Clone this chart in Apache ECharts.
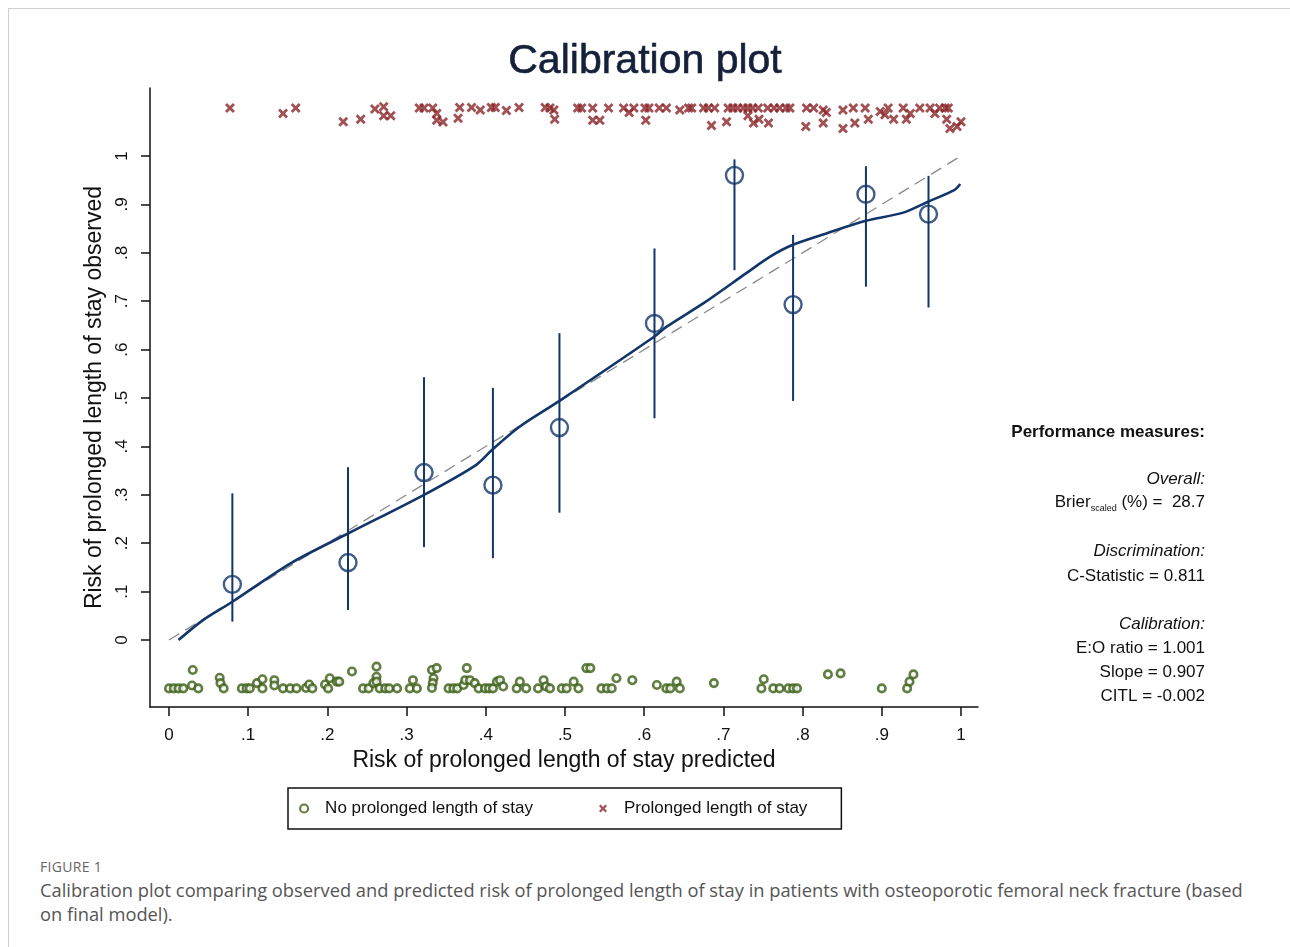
<!DOCTYPE html>
<html><head><meta charset="utf-8">
<script src="https://cdn.jsdelivr.net/npm/echarts@6/dist/echarts.min.js"></script>
<style>
html,body{margin:0;padding:0;background:#fff;width:1290px;height:947px;overflow:hidden;}
#frame{position:absolute;left:8px;top:8px;width:1290px;height:950px;border-top:1px solid #cfcfcf;border-left:1px solid #cfcfcf;}
#chart{position:absolute;left:0;top:0;width:1290px;height:850px;}
#fig{position:absolute;left:40px;top:857px;font-family:'Open Sans',sans-serif;font-size:14px;color:#666;letter-spacing:0.3px;}
#cap{position:absolute;left:40px;top:878px;font-family:'Open Sans',sans-serif;font-size:18.3px;line-height:24px;color:#555;white-space:nowrap;}
</style></head>
<body>
<div id="frame"></div>
<div id="chart"></div>
<div id="fig">FIGURE 1</div>
<div id="cap">Calibration plot comparing observed and predicted risk of prolonged length of stay in patients with osteoporotic femoral neck fracture (based<br>on final model).</div>
<script>
// ---- data ----
const tickValues = [0,0.1,0.2,0.3,0.4,0.5,0.6,0.7,0.8,0.9,1];
const tickLabels = ['0','.1','.2','.3','.4','.5','.6','.7','.8','.9','1'];

const diagX = [0, 1];
const diagY = [0, 1];

const smoothX = [0.012,0.043,0.080,0.153,0.226,0.322,0.388,0.408,0.443,0.493,0.613,0.628,0.675,0.729,0.759,0.787,0.830,0.880,0.927,0.959,0.992,0.999];
const smoothY = [0.000,0.041,0.079,0.158,0.220,0.300,0.362,0.393,0.441,0.494,0.627,0.647,0.696,0.758,0.792,0.816,0.840,0.866,0.883,0.906,0.930,0.942];

const binPred = [0.080,0.226,0.322,0.409,0.493,0.613,0.714,0.788,0.880,0.959];
const binObs  = [0.115,0.160,0.346,0.320,0.439,0.654,0.960,0.693,0.921,0.880];
const ciLow   = [0.038,0.062,0.192,0.169,0.263,0.458,0.764,0.494,0.730,0.687];
const ciHigh  = [0.303,0.357,0.543,0.521,0.634,0.809,0.993,0.837,0.979,0.959];

// prolonged LOS (top rug, crosses)
const topX = [0.077,0.144,0.160,0.220,0.242,0.260,0.271,0.271,0.280,0.316,0.322,0.333,0.338,0.338,0.346,0.367,0.365,0.382,0.393,0.407,0.412,0.426,0.442,0.475,0.481,0.486,0.487,
  0.516,0.521,0.535,0.535,0.544,0.555,0.574,0.581,0.587,0.601,0.606,0.602,0.619,0.628,0.645,0.656,0.660,0.675,0.681,0.689,0.685,0.704,
  0.706,0.712,0.718,0.725,0.731,0.737,0.744,0.731,0.745,0.738,0.757,0.756,0.764,0.771,0.779,0.784,
  0.805,0.814,0.826,0.830,0.804,0.826,0.851,0.864,0.879,0.851,0.866,0.883,0.898,0.908,0.904,0.915,0.927,0.936,0.931,0.948,0.961,0.973,0.967,0.980,0.984,0.982,0.986,0.995,1.000];
const topY = [1.099,1.088,1.099,1.071,1.076,1.097,1.102,1.083,1.083,1.099,1.099,1.099,1.088,1.074,1.070,1.100,1.078,1.100,1.095,1.100,1.100,1.094,1.100,1.100,1.099,1.095,1.076,
  1.099,1.099,1.099,1.074,1.074,1.099,1.099,1.090,1.099,1.099,1.099,1.074,1.099,1.099,1.095,1.099,1.099,1.099,1.099,1.099,1.063,1.071,
  1.099,1.099,1.099,1.099,1.099,1.099,1.099,1.083,1.076,1.068,1.068,1.099,1.099,1.099,1.099,1.099,
  1.099,1.099,1.095,1.090,1.061,1.068,1.095,1.099,1.099,1.057,1.068,1.076,1.092,1.099,1.085,1.076,1.099,1.088,1.076,1.099,1.099,1.099,1.088,1.099,1.099,1.076,1.057,1.061,1.071];

// no prolonged LOS (bottom rug, circles)
const botX = [0.000,0.006,0.012,0.018,0.030,0.029,0.037,0.064,0.065,0.069,0.092,0.098,0.102,0.111,0.118,0.118,0.133,0.133,0.144,0.153,0.161,0.173,0.177,0.181,0.197,0.203,0.201,0.212,0.215,0.231,
  0.245,0.252,0.258,0.262,0.262,0.262,0.266,0.273,0.278,0.288,0.304,0.308,0.313,0.332,0.338,0.334,0.333,0.332,0.353,0.359,0.364,0.372,0.374,0.376,0.380,0.386,0.391,0.399,0.404,0.409,
  0.414,0.418,0.422,0.439,0.443,0.451,0.466,0.473,0.476,0.481,0.496,0.502,0.511,0.517,0.527,0.532,0.546,0.553,0.559,0.565,0.585,0.616,0.628,0.633,0.641,0.645,0.688,
  0.751,0.748,0.763,0.771,0.782,0.788,0.793,0.832,0.848,0.900,0.932,0.935,0.940];
const botY = [-0.100,-0.100,-0.100,-0.100,-0.062,-0.094,-0.100,-0.078,-0.089,-0.100,-0.100,-0.100,-0.100,-0.089,-0.081,-0.100,-0.083,-0.094,-0.100,-0.100,-0.100,-0.099,-0.092,-0.100,-0.092,-0.079,-0.100,-0.086,-0.086,-0.065,
  -0.100,-0.100,-0.089,-0.055,-0.076,-0.086,-0.100,-0.100,-0.100,-0.100,-0.100,-0.083,-0.100,-0.062,-0.058,-0.079,-0.089,-0.099,-0.100,-0.100,-0.100,-0.093,-0.083,-0.058,-0.083,-0.089,-0.100,-0.100,-0.100,-0.100,
  -0.086,-0.083,-0.096,-0.100,-0.086,-0.100,-0.100,-0.083,-0.096,-0.100,-0.100,-0.100,-0.086,-0.100,-0.058,-0.058,-0.100,-0.100,-0.100,-0.079,-0.083,-0.093,-0.100,-0.100,-0.086,-0.100,-0.089,
  -0.081,-0.100,-0.100,-0.100,-0.100,-0.100,-0.100,-0.071,-0.069,-0.100,-0.100,-0.086,-0.071];

// ---- chart ----
const zip = (a, b) => a.map((v, i) => [v, b[i]]);
const NAVY = '#12356a';
const RED = '#8a2529';
const GREEN = '#3a5e14';
const FONT = "'Liberation Sans', Arial, sans-serif";
const crossPath = 'path://M2,0 L5,3 L8,0 L10,2 L7,5 L10,8 L8,10 L5,7 L2,10 L0,8 L3,5 L0,2 Z';
const labelFor = v => tickLabels[tickValues.findIndex(t => Math.abs(t - v) < 1e-9)] ?? '';
const TXT = "17px 'Liberation Sans', Arial";
const ITXT = "italic 17px 'Liberation Sans', Arial";

const chart = echarts.init(document.getElementById('chart'), null, {renderer: 'canvas'});
chart.setOption({
  animation: false,
  backgroundColor: 'transparent',
  title: {
    text: 'Calibration plot', left: 'center', top: 36,
    textStyle: {fontFamily: FONT, fontSize: 41, fontWeight: 'normal', color: '#15203a', textBorderColor: '#15203a', textBorderWidth: 0.6}
  },
  grid: {left: 150, top: 88, width: 828, height: 619, containLabel: false},
  xAxis: {
    type: 'value', min: -0.024, max: 1.0215,
    name: 'Risk of prolonged length of stay predicted', nameLocation: 'middle', nameGap: 42,
    nameTextStyle: {fontFamily: FONT, fontSize: 23, color: '#111'},
    axisLine: {show: true, onZero: false, lineStyle: {color: '#111', width: 1.5}},
    axisTick: {show: true, customValues: tickValues, length: 9, lineStyle: {color: '#111', width: 1.5}},
    axisLabel: {customValues: tickValues, formatter: labelFor, margin: 20, fontFamily: FONT, fontSize: 17, color: '#111'},
    splitLine: {show: false}
  },
  yAxis: {
    type: 'value', min: -0.1384, max: 1.1405,
    name: 'Risk of prolonged length of stay observed', nameLocation: 'middle', nameGap: 41,
    nameTextStyle: {fontFamily: FONT, fontSize: 23, color: '#111'},
    axisLine: {show: true, onZero: false, lineStyle: {color: '#111', width: 1.5}},
    axisTick: {show: true, customValues: tickValues, length: 9, lineStyle: {color: '#111', width: 1.5}},
    axisLabel: {customValues: tickValues, formatter: labelFor, rotate: 90, margin: 19, fontFamily: FONT, fontSize: 17, color: '#111'},
    splitLine: {show: false}
  },
  legend: {
    left: 288, top: 788, orient: 'horizontal',
    borderColor: '#111', borderWidth: 1.5, borderRadius: 0,
    padding: [12, 34, 12, 11], itemGap: 66, itemWidth: 8, itemHeight: 8,
    textStyle: {fontFamily: FONT, fontSize: 17, color: '#111', padding: [0, 0, 0, 12]},
    data: [
      {name: 'No prolonged length of stay', icon: 'circle', itemStyle: {color: '#fff', borderColor: GREEN, borderWidth: 2.2}},
      {name: 'Prolonged length of stay', icon: crossPath, itemStyle: {color: RED}}
    ]
  },
  graphic: [
    {type: 'text', right: 85, top: 424, style: {text: 'Performance measures:', font: "bold 17px 'Liberation Sans', Arial", fill: '#111', textAlign: 'right'}},
    {type: 'text', right: 85, top: 471, style: {text: 'Overall:', font: ITXT, fill: '#111', textAlign: 'right'}},
    {type: 'text', right: 85, top: 494, style: {
      text: '{a|Brier}{b|scaled}{a| (%) =  28.7}', fill: '#111', textAlign: 'right',
      rich: {a: {fontFamily: FONT, fontSize: 17, lineHeight: 21, color: '#111'}, b: {fontFamily: FONT, fontSize: 9, lineHeight: 10, verticalAlign: 'bottom', color: '#111'}}
    }},
    {type: 'text', right: 85, top: 543, style: {text: 'Discrimination:', font: ITXT, fill: '#111', textAlign: 'right'}},
    {type: 'text', right: 85, top: 568, style: {text: 'C-Statistic = 0.811', font: TXT, fill: '#111', textAlign: 'right'}},
    {type: 'text', right: 85, top: 616, style: {text: 'Calibration:', font: ITXT, fill: '#111', textAlign: 'right'}},
    {type: 'text', right: 85, top: 640, style: {text: 'E:O ratio = 1.001', font: TXT, fill: '#111', textAlign: 'right'}},
    {type: 'text', right: 85, top: 664, style: {text: 'Slope = 0.907', font: TXT, fill: '#111', textAlign: 'right'}},
    {type: 'text', right: 85, top: 688, style: {text: 'CITL = -0.002', font: TXT, fill: '#111', textAlign: 'right'}}
  ],
  series: [
    {
      name: 'Reference', type: 'line', data: zip(diagX, diagY), symbol: 'none', z: 1,
      lineStyle: {color: '#8a8a8a', width: 1.3, type: [12, 7]}
    },
    {
      name: 'Lowess', type: 'line', data: zip(smoothX, smoothY), symbol: 'none', smooth: 0.3, z: 3,
      lineStyle: {color: NAVY, width: 2.6}
    },
    {
      name: 'CI', type: 'custom', z: 2,
      data: binPred.map((x, i) => [x, ciLow[i], ciHigh[i]]),
      renderItem: (params, api) => {
        const p1 = api.coord([api.value(0), api.value(1)]);
        const p2 = api.coord([api.value(0), api.value(2)]);
        return {type: 'line', shape: {x1: p1[0], y1: p1[1], x2: p2[0], y2: p2[1]}, style: {stroke: NAVY, lineWidth: 2}};
      }
    },
    {
      name: 'Observed', type: 'scatter', data: zip(binPred, binObs), symbol: 'circle', symbolSize: 17, z: 4,
      itemStyle: {color: 'rgba(0,0,0,0)', borderColor: NAVY, borderWidth: 2.4}
    },
    {
      name: 'No prolonged length of stay', type: 'scatter', data: zip(botX, botY), symbol: 'circle', symbolSize: 7.5, z: 5,
      itemStyle: {color: '#fff', borderColor: GREEN, borderWidth: 2.6}
    },
    {
      name: 'Prolonged length of stay', type: 'scatter', data: zip(topX, topY), symbol: crossPath, symbolSize: 10, z: 5,
      itemStyle: {color: RED}
    }
  ]
});
</script>
</body></html>
